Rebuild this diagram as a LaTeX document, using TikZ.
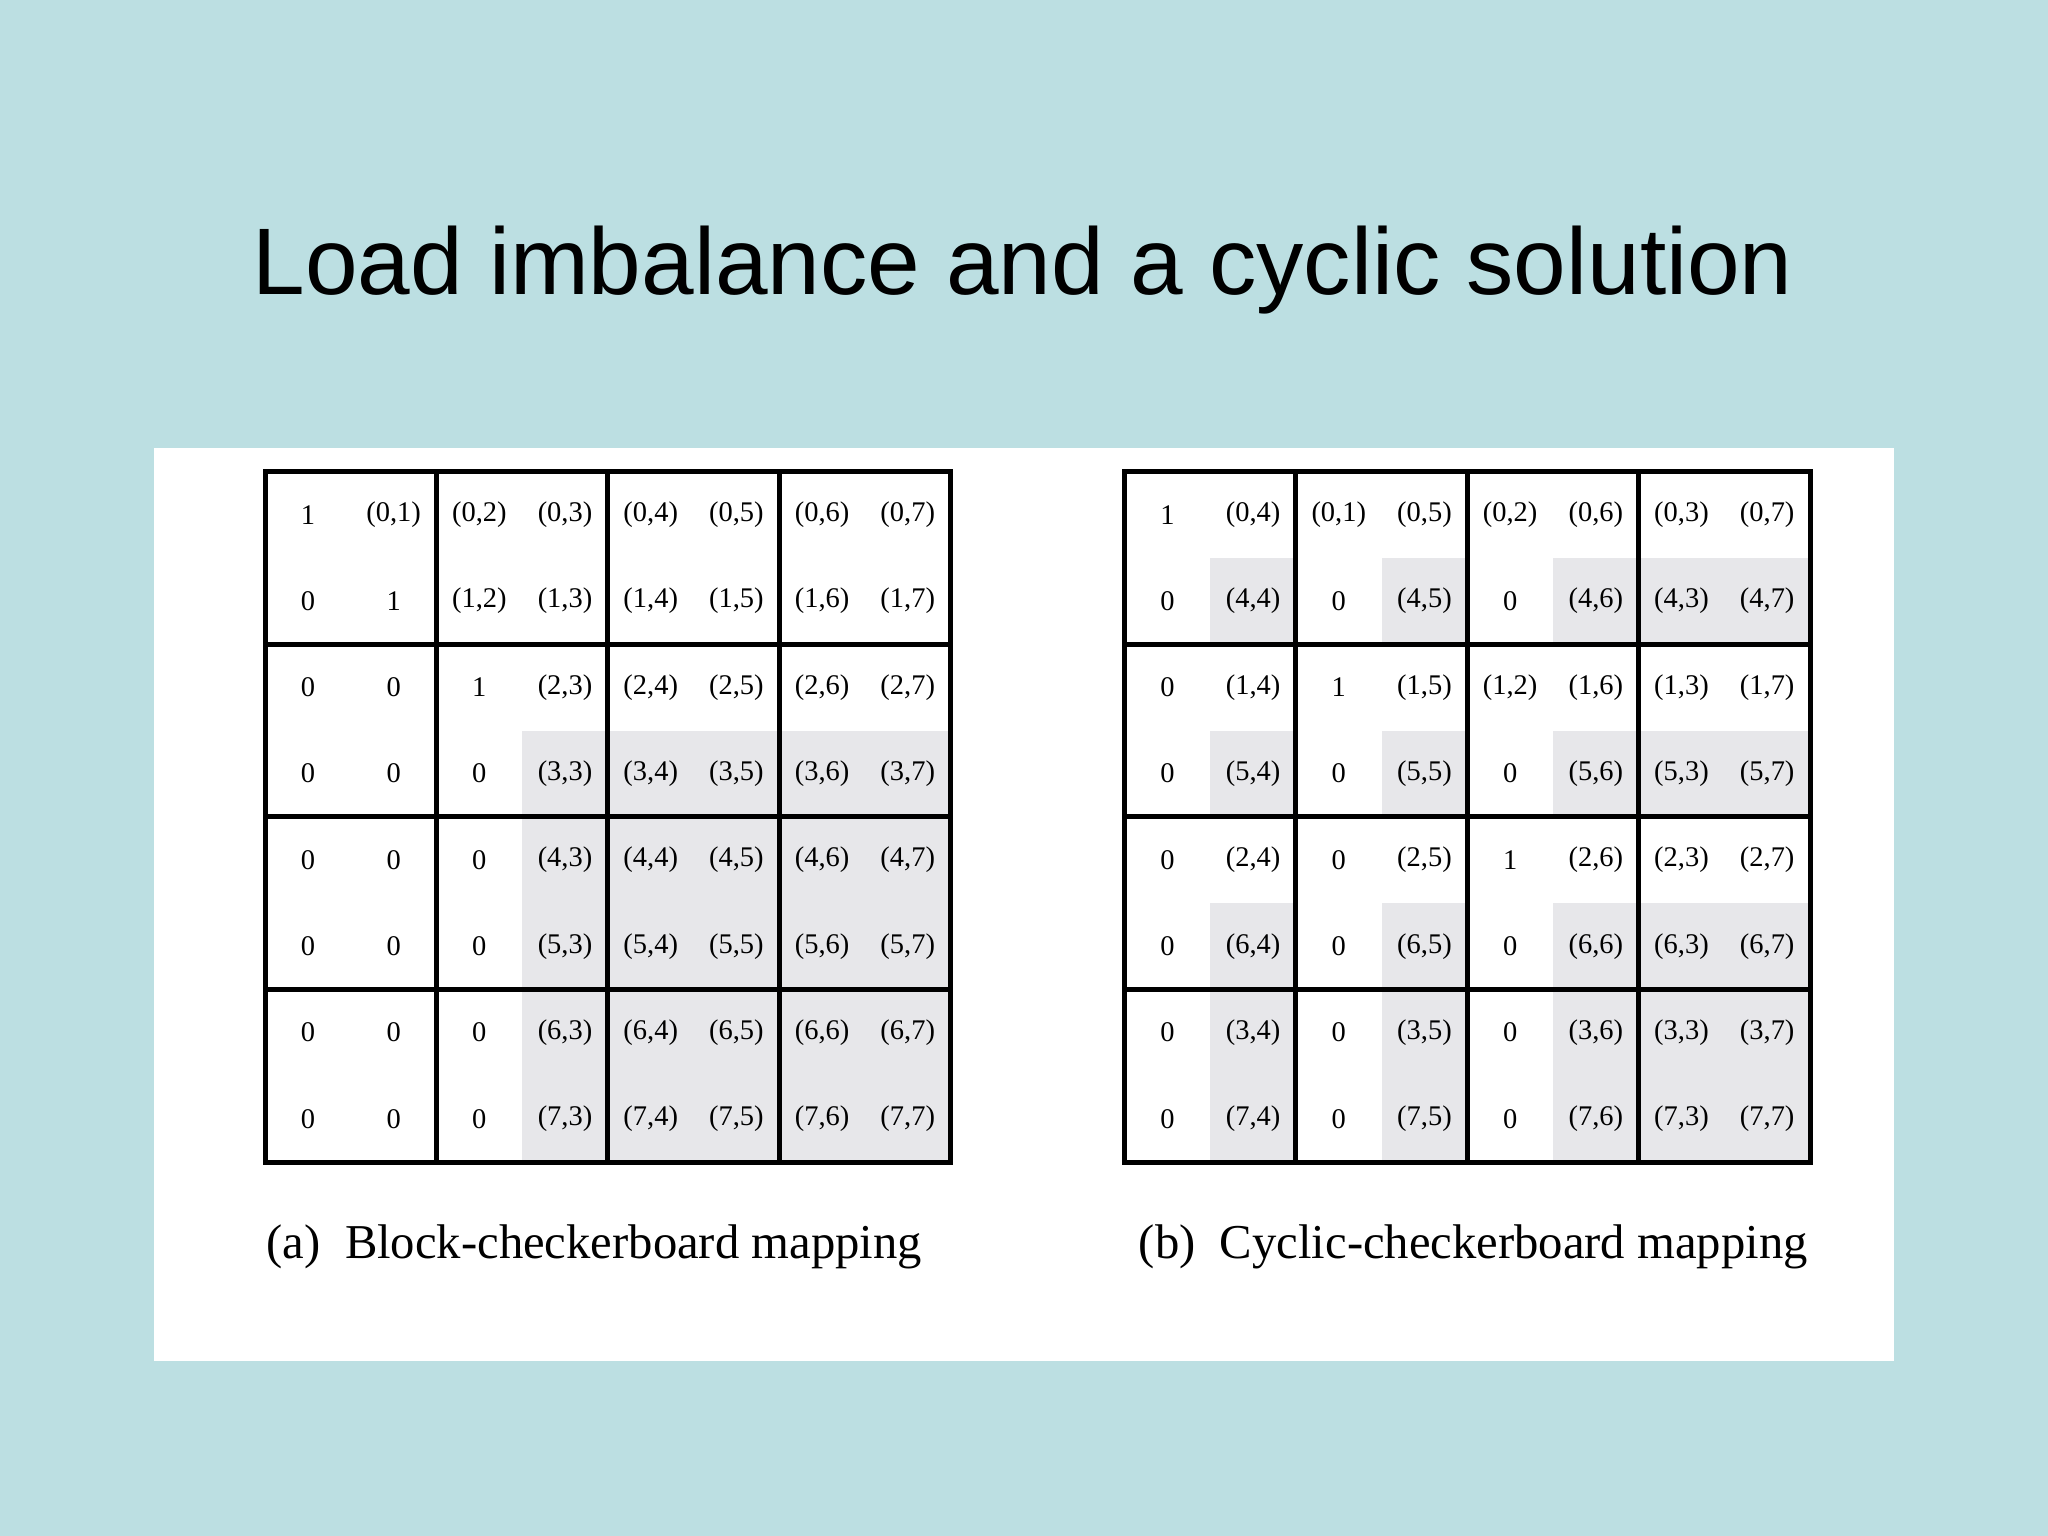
\documentclass[tikz,border=0pt]{standalone}
\usepackage{fontspec}
\setmainfont{Liberation Serif}
\newfontfamily\titlefont{Liberation Sans}
\definecolor{bgc}{HTML}{BCDFE2}
\definecolor{cellgray}{HTML}{E7E7EA}
\newcommand\cellent[2]{\ifnum#1<3 \ifnum#2<#1 0\else\ifnum#2=#1 1\else(#1,#2)\fi\fi\else\ifnum#2<3 0\else(#1,#2)\fi\fi}
\tikzset{cell/.style={inner sep=0pt,font=\fontsize{6.2}{7}\selectfont},
 blk/.style={line width=1.1pt},
 graycell/.style={fill=cellgray},
 captext/.style={inner sep=0pt,font=\fontsize{10.6}{12}\selectfont}}
\begin{document}
\begin{tikzpicture}[x=0.1mm,y=-0.1mm]
\path[use as bounding box,fill=bgc] (0,0) rectangle (1568,1176);
\fill[white] (118,343) rectangle (1450,1042);
\node[font=\titlefont\fontsize{20.6}{23}\selectfont,inner sep=0pt] (title) at (783,207) {Load imbalance and a cyclic solution};
% left grid
\foreach \i in {0,...,7}{\foreach \j in {0,...,7}{
  \pgfmathsetmacro\xa{203+\j*65.6}\pgfmathsetmacro\ya{361+\i*66.1}
  \ifnum\i>2 \ifnum\j>2 \path[graycell] (\xa,\ya) rectangle ++(65.6,66.1);\fi\fi
  \node[cell] (L-\i-\j) at (\xa+32.8,\ya+33) {\cellent{\i}{\j}};
}}
\draw[blk] (203,361) rectangle (728,890);
\foreach \k in {1,2,3}{\draw[blk] (203+\k*131.2,361) -- (203+\k*131.2,890);
 \draw[blk] (203,361+\k*132.2) -- (728,361+\k*132.2);}
% right grid
\foreach \r [count=\ii from 0] in {0,4,1,5,2,6,3,7}{\foreach \c [count=\jj from 0] in {0,4,1,5,2,6,3,7}{
  \pgfmathsetmacro\xa{861+\jj*65.6}\pgfmathsetmacro\ya{361+\ii*66.1}
  \ifnum\r>2 \ifnum\c>2 \path[graycell] (\xa,\ya) rectangle ++(65.6,66.1);\fi\fi
  \node[cell] (R-\ii-\jj) at (\xa+32.8,\ya+33) {\cellent{\r}{\c}};
}}
\draw[blk] (861,361) rectangle (1386,890);
\foreach \k in {1,2,3}{\draw[blk] (861+\k*131.2,361) -- (861+\k*131.2,890);
 \draw[blk] (861,361+\k*132.2) -- (1386,361+\k*132.2);}
\node[captext] (capa) at (455,955) {(a)\ \ Block-checkerboard mapping};
\node[captext] (capb) at (1128,955) {(b)\ \ Cyclic-checkerboard mapping};
\end{tikzpicture}
\end{document}
